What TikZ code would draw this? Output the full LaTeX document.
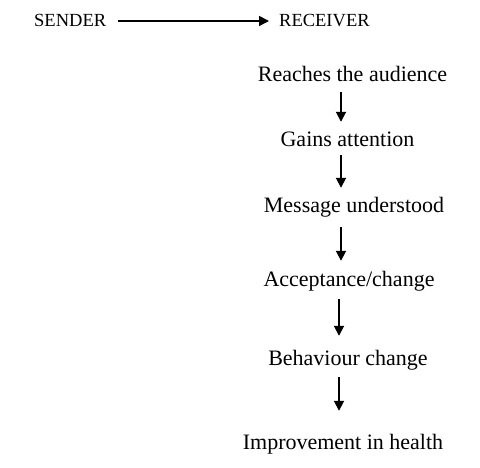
\documentclass[tikz,border=0pt]{standalone}
\usepackage{fontspec}
\setmainfont{Liberation Serif}
\usetikzlibrary{arrows.meta}
\begin{document}
\begin{tikzpicture}[x=1pt,y=-1pt,
  toplabel/.style={inner sep=0pt,text height=12pt,text depth=0pt,font=\fontsize{18.5}{22}\selectfont},
  steplabel/.style={inner sep=0pt,text height=15pt,text depth=5pt,anchor=base,font=\fontsize{22}{26}\selectfont},
  flow/.style={line width=1.8pt,-{Triangle[length=10pt,width=10pt]}}]
\useasboundingbox (0,0) rectangle (480,468);
\node[toplabel,anchor=base west] (s) at (34,27) {SENDER};
\node[toplabel,anchor=base west] (r) at (279,27) {RECEIVER};
\draw[flow,line width=1.6pt,shorten <=12pt,shorten >=10pt] (s.east) -- (r.west);
\node[steplabel] (n1) at (352.5,82) {Reaches the audience};
\node[steplabel] (n2) at (347.5,147) {Gains attention};
\node[steplabel] (n3) at (354,213) {Message understood};
\node[steplabel] (n4) at (349,287) {Acceptance/change};
\node[steplabel] (n5) at (348,365) {Behaviour change};
\node[steplabel] (n6) at (343,449) {Improvement in health};
\coordinate (xa) at (341,0);
\coordinate (xb) at (339,0);
\draw[flow,shorten <=5pt,shorten >=10pt] (n1.south -| xa) -- (n2.north -| xa);
\draw[flow,shorten <=3pt,shorten >=10pt] (n2.south -| xa) -- (n3.north -| xa);
\draw[flow,shorten <=9pt,shorten >=11pt] (n3.south -| xa) -- (n4.north -| xa);
\draw[flow,shorten <=7pt,shorten >=14pt] (n4.south -| xb) -- (n5.north -| xb);
\draw[flow,shorten <=7pt,shorten >=23pt] (n5.south -| xb) -- (n6.north -| xb);
\end{tikzpicture}
\end{document}
